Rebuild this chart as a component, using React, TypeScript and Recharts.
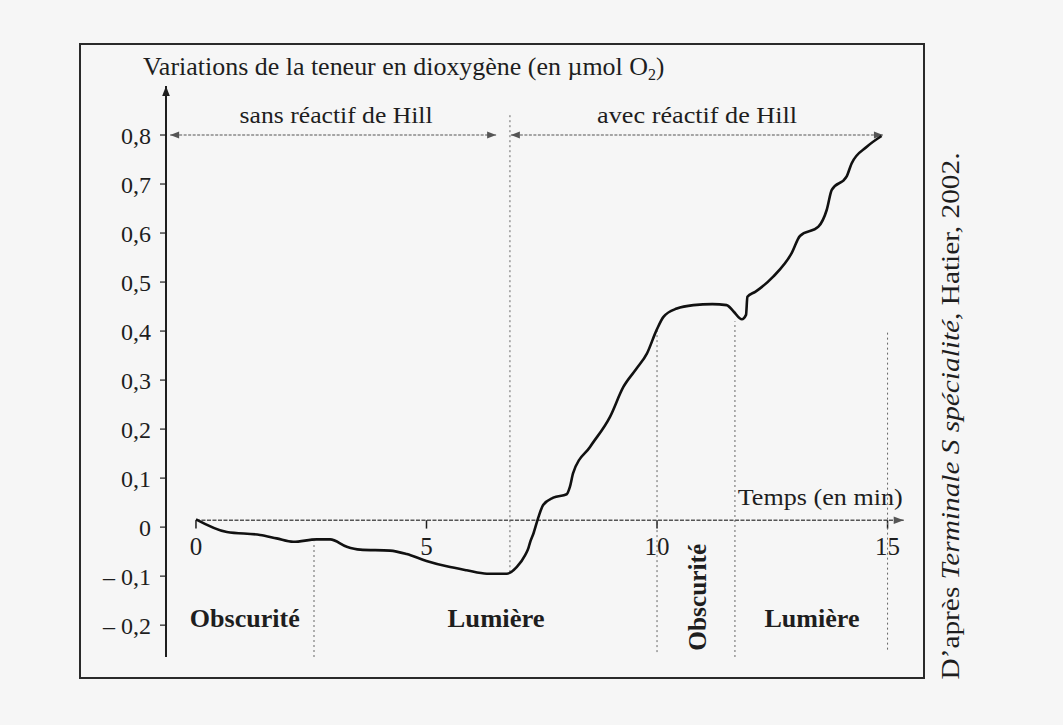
import React from 'react';
import { LineChart, Line, XAxis, YAxis, ReferenceLine, ReferenceDot } from 'recharts';

// time (min) and O2 variation (µmol O2)
const times = [0, 0.67, 1.39, 1.75, 2.11, 2.62, 2.91, 3.27, 3.56, 4.21, 4.57, 5.0, 5.44, 5.87, 6.31, 6.74, 6.96, 7.14, 7.21, 7.24, 7.32, 7.43, 7.53, 7.75, 8.04, 8.11, 8.18, 8.55, 8.98, 9.27, 9.56, 9.78, 9.99, 10.14, 10.43, 10.79, 11.2, 11.51, 11.66, 11.84, 11.93, 11.96, 12.13, 12.52, 12.92, 13.1, 13.5, 13.68, 13.79, 14.11, 14.22, 14.55, 14.87];
const o2 = [0.016, -0.01, -0.016, -0.023, -0.03, -0.025, -0.025, -0.04, -0.046, -0.048, -0.055, -0.069, -0.08, -0.088, -0.095, -0.095, -0.081, -0.057, -0.043, -0.033, -0.013, 0.021, 0.045, 0.06, 0.067, 0.082, 0.11, 0.164, 0.225, 0.286, 0.324, 0.354, 0.402, 0.429, 0.446, 0.453, 0.455, 0.453, 0.44, 0.424, 0.433, 0.47, 0.48, 0.511, 0.559, 0.594, 0.613, 0.647, 0.688, 0.715, 0.742, 0.776, 0.798];

const yTicks = [-0.2, -0.1, 0, 0.1, 0.2, 0.3, 0.4, 0.5, 0.6, 0.7, 0.8];
const xTicks = [0, 5, 10, 15];
const xTickLabels = ['0', '5', '10', '15'];

// vertical dashed separators: time, top value, bottom value
const sepTimes = [2.56, 6.81, 10, 11.69, 15];
const sepTops = [-0.03, 0.845, 0.4, 0.42, 0.4];
const sepBottoms = [-0.265, -0.092, -0.255, -0.265, -0.25];

const phaseLabels = ['Obscurité', 'Lumière', 'Obscurité', 'Lumière'];
const phaseTimes = [1.06, 6.51, 10.87, 13.36];
const phaseValues = [-0.186, -0.186, -0.143, -0.186];
const phaseRotated = [false, false, true, false];

const sectionLabels = ['sans réactif de Hill', 'avec réactif de Hill'];
const sectionTimes = [3.04, 10.87];
const sectionStarts = [-0.56, 6.83];
const sectionEnds = [6.51, 14.9];
const sectionLevel = 0.8;
const sectionLabelLevel = 0.839;

const xAxisLevel = 0.014;
const X_MIN = -0.65;
const X_MAX = 15.4;
const Y_MIN = -0.265;
const Y_MAX = 0.9;

const data = times.map((t, i) => ({ t, v: o2[i] }));

const FONT = '"Liberation Serif", "DejaVu Serif", serif';
const INK = '#1e1e1e';

const arrowShape = (o: { start?: boolean; end?: boolean; dash?: string; color: string; width: number; head: number }) =>
  (props: any) => {
    const { x1, y1, x2, y2 } = props;
    const a = Math.atan2(y2 - y1, x2 - x1);
    const tri = (x: number, y: number, ang: number) => {
      const L = o.head;
      const W = o.head * 0.38;
      const bx = x - L * Math.cos(ang);
      const by = y - L * Math.sin(ang);
      return `${x},${y} ${bx + W * Math.sin(ang)},${by - W * Math.cos(ang)} ${bx - W * Math.sin(ang)},${by + W * Math.cos(ang)}`;
    };
    return (
      <g>
        <line x1={x1} y1={y1} x2={x2} y2={y2} stroke={o.color} strokeWidth={o.width} strokeDasharray={o.dash} />
        {o.end && <polygon points={tri(x2, y2, a)} fill={o.color} />}
        {o.start && <polygon points={tri(x1, y1, a + Math.PI)} fill={o.color} />}
      </g>
    );
  };

const textShape = (text: string, size: number, weight: string | number, len?: number, rotate = false) => (props: any) => {
  const { cx, cy } = props;
  return (
    <text
      x={cx}
      y={cy}
      textAnchor="middle"
      dominantBaseline="central"
      fontFamily={FONT}
      fontSize={size}
      fontWeight={weight}
      fill={INK}
      textLength={len}
      lengthAdjust={len ? 'spacingAndGlyphs' : undefined}
      transform={rotate ? `rotate(-90 ${cx} ${cy})` : undefined}
    >
      {text}
    </text>
  );
};

const fmtY = (v: number) => {
  if (Math.abs(v) < 1e-9) return '0';
  const s = Math.abs(v).toFixed(1).replace('.', ',');
  return v < 0 ? '– ' + s : s;
};

const phaseLens = [110, 97, 107, 95];
const sectionLens = [193, 200];

export default function App() {
  return (
    <div style={{ position: 'absolute', left: 0, top: 0, width: 1063, height: 725, background: '#f6f6f6' }}>
      <svg width={1063} height={725} style={{ position: 'absolute', left: 0, top: 0 }}>
        <rect x={80} y={44} width={844} height={634} fill="none" stroke="#2a2a2a" strokeWidth={2} />
        <text x={143} y={75} fontFamily={FONT} fontSize={25} fill={INK}>
          <tspan textLength={505} lengthAdjust="spacingAndGlyphs">Variations de la teneur en dioxygène (en µmol O</tspan>
          <tspan dy={5} fontSize={16}>2</tspan>
          <tspan dy={-5}>)</tspan>
        </text>
        <text
          x={950}
          y={416}
          textAnchor="middle"
          dominantBaseline="central"
          fontFamily={FONT}
          fontSize={26}
          fill={INK}
          textLength={527}
          lengthAdjust="spacingAndGlyphs"
          transform="rotate(-90 950 416)"
        >
          D’après <tspan fontStyle="italic">Terminale S spécialité</tspan>, Hatier, 2002.
        </text>
      </svg>
      <div style={{ position: 'absolute', left: 0, top: 0 }}>
        <LineChart width={1063} height={725} data={data} margin={{ top: 86, right: 157, bottom: 68, left: 106 }}>
          <XAxis dataKey="t" type="number" domain={[X_MIN, X_MAX]} hide allowDataOverflow />
          <YAxis
            type="number"
            domain={[Y_MIN, Y_MAX]}
            allowDataOverflow
            ticks={yTicks}
            width={60}
            axisLine={false}
            tickLine={{ stroke: INK, strokeWidth: 1.2 }}
            tickSize={6}
            tickMargin={9}
            tickFormatter={fmtY}
            tick={{ fill: INK, fontSize: 24, fontFamily: FONT }}
            interval={0}
          />
          {/* y axis with arrow */}
          <ReferenceLine
            segment={[{ x: X_MIN, y: Y_MIN }, { x: X_MIN, y: Y_MAX }]}
            ifOverflow="visible"
            shape={arrowShape({ end: true, color: INK, width: 2, head: 10 })}
          />
          {/* x axis with arrow */}
          <ReferenceLine
            segment={[{ x: 0, y: xAxisLevel }, { x: 15.35, y: xAxisLevel }]}
            ifOverflow="visible"
            shape={arrowShape({ end: true, color: '#555', width: 1.3, head: 10, dash: '4 1.5' })}
          />
          {xTicks.map((t) => (
            <ReferenceLine
              key={'xt' + t}
              segment={[{ x: t, y: xAxisLevel }, { x: t, y: -0.003 }]}
              ifOverflow="visible"
              stroke={INK}
              strokeWidth={1.5}
            />
          ))}
          {xTicks.map((t, i) => (
            <ReferenceDot
              key={'xl' + t}
              x={t}
              y={-0.039}
              r={0}
              ifOverflow="visible"
              shape={textShape(xTickLabels[i], 25, 'normal')}
            />
          ))}
          {sepTimes.map((t, i) => (
            <ReferenceLine
              key={'sep' + i}
              segment={[{ x: t, y: sepBottoms[i] }, { x: t, y: sepTops[i] }]}
              ifOverflow="visible"
              stroke="#666"
              strokeWidth={1}
              strokeDasharray="2 3"
            />
          ))}
          {sectionLabels.map((s, i) => (
            <ReferenceLine
              key={'sec' + i}
              segment={[{ x: sectionStarts[i], y: sectionLevel }, { x: sectionEnds[i], y: sectionLevel }]}
              ifOverflow="visible"
              shape={arrowShape({ start: true, end: true, color: '#555', width: 1.1, head: 9, dash: '3 1.5' })}
            />
          ))}
          {sectionLabels.map((s, i) => (
            <ReferenceDot
              key={'secl' + i}
              x={sectionTimes[i]}
              y={sectionLabelLevel}
              r={0}
              ifOverflow="visible"
              shape={textShape(s, 23, 'normal', sectionLens[i])}
            />
          ))}
          {phaseLabels.map((s, i) => (
            <ReferenceDot
              key={'ph' + i}
              x={phaseTimes[i]}
              y={phaseValues[i]}
              r={0}
              ifOverflow="visible"
              shape={textShape(s, 25, 'bold', phaseLens[i], phaseRotated[i])}
            />
          ))}
          <ReferenceDot x={13.54} y={0.061} r={0} ifOverflow="visible" shape={textShape('Temps (en min)', 24, 'normal', 165)} />
          <Line
            type="monotone"
            dataKey="v"
            stroke="#111"
            strokeWidth={2.6}
            dot={false}
            isAnimationActive={false}
          />
        </LineChart>
      </div>
    </div>
  );
}
